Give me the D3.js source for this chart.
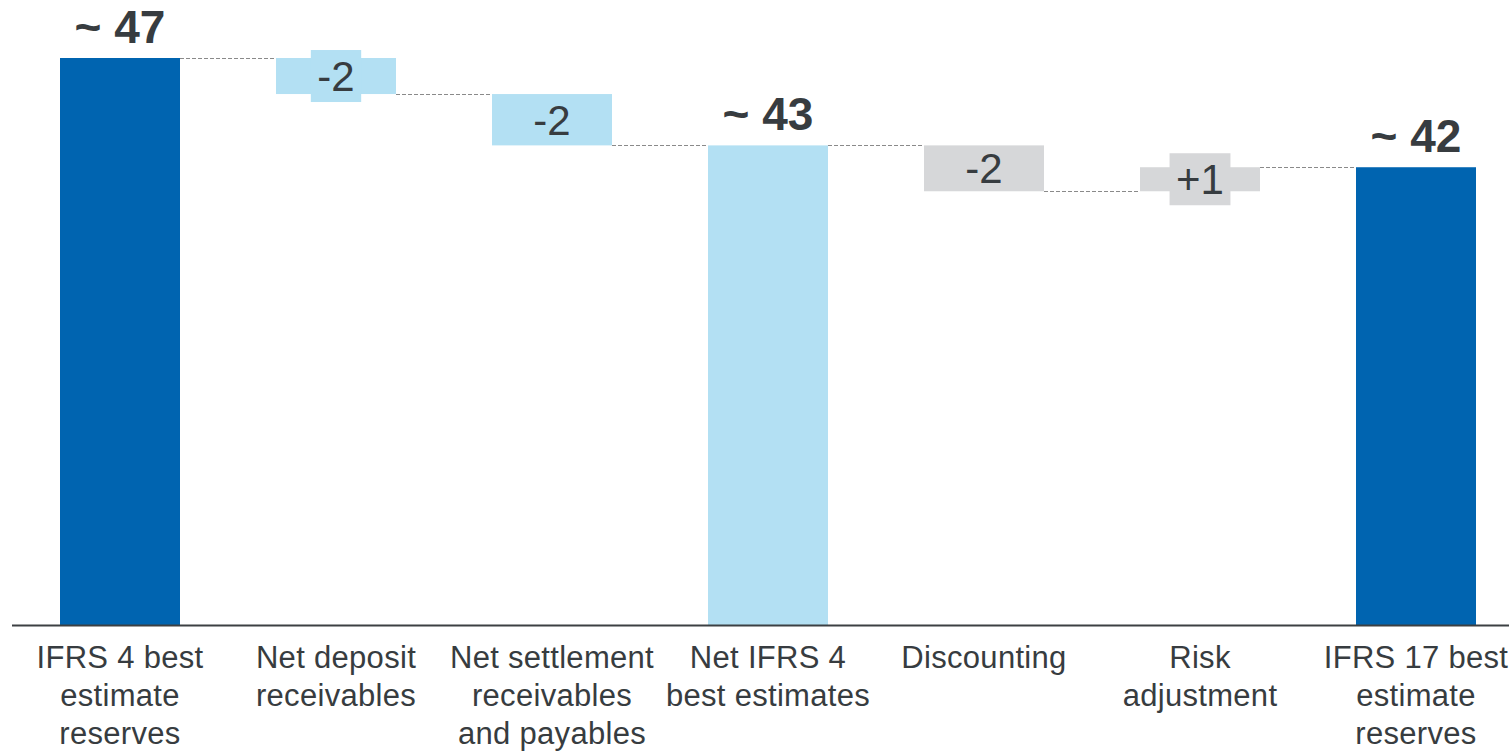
<!DOCTYPE html>
<html>
<head>
<meta charset="utf-8">
<script src="https://cdn.jsdelivr.net/npm/d3@7/dist/d3.min.js"></script>
<style>
  html, body { margin: 0; padding: 0; background: #ffffff; }
  svg { display: block; }
  text { font-family: "Liberation Sans", Arial, Helvetica, sans-serif; fill: #373c40; }
</style>
</head>
<body>
<svg id="chart" width="1509" height="751"></svg>
<script>
// Bridge from IFRS 4 to IFRS 17 best estimate reserves
const categories = [
  "IFRS 4 best estimate reserves",
  "Net deposit receivables",
  "Net settlement receivables and payables",
  "Net IFRS 4 best estimates",
  "Discounting",
  "Risk adjustment",
  "IFRS 17 best estimate reserves"
];
const tickLines = [
  ["IFRS 4 best", "estimate", "reserves"],
  ["Net deposit", "receivables"],
  ["Net settlement", "receivables", "and payables"],
  ["Net IFRS 4", "best estimates"],
  ["Discounting"],
  ["Risk", "adjustment"],
  ["IFRS 17 best", "estimate", "reserves"]
];
const kinds  = ["total", "delta", "delta", "total", "delta", "delta", "total"];
const values = [47, -1.65, -2.35, 43, -2.1, 1.1, 42];
const fills  = ["#0064b0", "#b3e0f3", "#b3e0f3", "#b3e0f3", "#d6d7d9", "#d6d7d9", "#0064b0"];

const svg = d3.select("#chart");

const x = d3.scaleBand()
  .domain(categories)
  .range([12, 1524])
  .paddingInner(96 / 216)
  .paddingOuter(48 / 216);

const y = d3.scaleLinear().domain([21, 47]).range([626, 58]);

// running start/end of every bar
let running = 0;
const bars = categories.map((c, i) => {
  let y0, y1;
  if (kinds[i] === "total") { y0 = y.domain()[0]; y1 = values[i]; running = values[i]; }
  else { y0 = running; y1 = running + values[i]; running = y1; }
  return { cat: c, kind: kinds[i], value: values[i], y0, y1, end: running, fill: fills[i] };
});

// plain hyphen for negatives, explicit plus for positives
const locale = d3.formatLocale({ decimal: ".", thousands: ",", grouping: [3], currency: ["", ""], minus: "-" });
const fmtInt = locale.format("d");
const fmtDelta = v => (v > 0 ? "+" : "") + fmtInt(Math.round(v));

// dashed connectors between consecutive bars
svg.append("g").selectAll("line")
  .data(bars.slice(0, -1))
  .join("line")
  .attr("x1", (d, i) => x(bars[i].cat) + x.bandwidth())
  .attr("x2", (d, i) => x(bars[i + 1].cat))
  .attr("y1", d => Math.round(y(d.end)) + 0.5)
  .attr("y2", d => Math.round(y(d.end)) + 0.5)
  .attr("stroke", "#8a8a8a")
  .attr("stroke-width", 1)
  .attr("stroke-dasharray", "4,2");

// bars
svg.append("g").selectAll("rect")
  .data(bars)
  .join("rect")
  .attr("x", d => x(d.cat))
  .attr("width", x.bandwidth())
  .attr("y", d => y(Math.max(d.y0, d.y1)))
  .attr("height", d => Math.abs(y(d.y0) - y(d.y1)))
  .attr("fill", d => d.fill);

// delta labels, inside the bar; thin bars get a taller label plate
const deltaFs = 42;
bars.forEach(d => {
  if (d.kind !== "delta") return;
  const cx = x(d.cat) + x.bandwidth() / 2;
  const top = y(Math.max(d.y0, d.y1));
  const bot = y(Math.min(d.y0, d.y1));
  const cy = (top + bot) / 2;
  const g = svg.append("g");
  const t = g.append("text")
    .attr("x", cx)
    .attr("y", cy + deltaFs * 0.358)
    .attr("text-anchor", "middle")
    .style("font-size", deltaFs + "px")
    .text(fmtDelta(d.value));
  if (bot - top < 40) {
    const w = t.node().getComputedTextLength() + 13;
    g.insert("rect", "text")
      .attr("x", cx - w / 2)
      .attr("width", w)
      .attr("y", cy - 26)
      .attr("height", 52)
      .attr("fill", d.fill);
  }
});

// total labels above the bars
svg.append("g").selectAll("text")
  .data(bars.filter(d => d.kind === "total"))
  .join("text")
  .attr("x", d => x(d.cat) + x.bandwidth() / 2)
  .attr("y", d => y(d.y1) - 15)
  .attr("text-anchor", "middle")
  .style("font-size", "46px")
  .style("font-weight", "bold")
  .text(d => "~ " + fmtInt(d.value));

// baseline
svg.append("line")
  .attr("x1", 12).attr("x2", 1509)
  .attr("y1", 625.5).attr("y2", 625.5)
  .attr("stroke", "#3c4043")
  .attr("stroke-width", 2);

// category labels
const ticks = svg.append("g").selectAll("text")
  .data(categories)
  .join("text")
  .attr("x", d => x(d) + x.bandwidth() / 2)
  .attr("y", 668)
  .attr("text-anchor", "middle")
  .style("font-size", "31px")
  .style("letter-spacing", "0.3px");
ticks.each(function (d, i) {
  d3.select(this).selectAll("tspan")
    .data(tickLines[i])
    .join("tspan")
    .attr("x", x(d) + x.bandwidth() / 2)
    .attr("dy", (l, j) => j === 0 ? 0 : 38)
    .text(l => l);
});
</script>
</body>
</html>
